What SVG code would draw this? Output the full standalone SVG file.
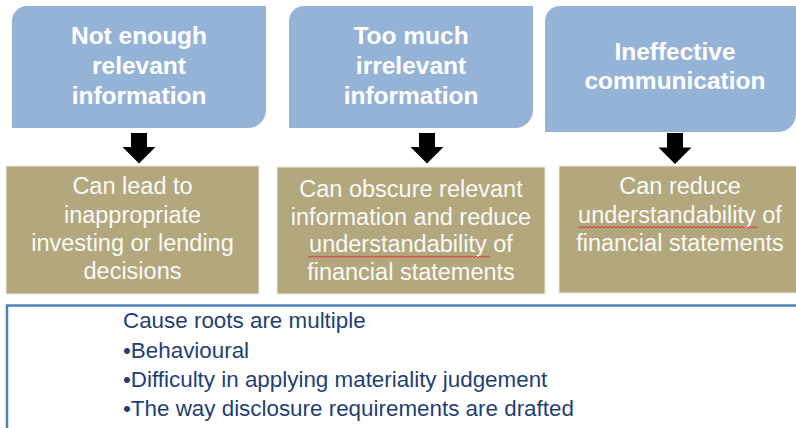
<svg xmlns="http://www.w3.org/2000/svg" width="796" height="428" viewBox="0 0 796 428">
<defs>
<style>
.hdr{fill:#95B3D7}
.kh{fill:#B3A77D;stroke:#ECE9DD;stroke-width:1}
.ht{font-family:"Liberation Sans",Arial,sans-serif;font-weight:bold;font-size:24.5px;fill:#FFFFFF;text-anchor:middle}
.kt{font-family:"Liberation Sans",Arial,sans-serif;font-size:23.5px;fill:#FAFAF6;text-anchor:middle}
.bt{font-family:"Liberation Sans",Arial,sans-serif;font-size:22.4px;fill:#1F3F74}
.arr{fill:#000000}
.sq{fill:none;stroke:#E03030;stroke-width:1}
</style>
</defs>
<rect width="796" height="428" fill="#FFFFFF"/>
<g id="cause1">
<path class="hdr" d="M27 6 H266 V110 A18 18 0 0 1 248 128 H12 V21 A15 15 0 0 1 27 6 Z"/>
<text class="ht" x="139" y="44">Not enough</text>
<text class="ht" x="139" y="74">relevant</text>
<text class="ht" x="139" y="104">information</text>
</g>
<g id="cause2">
<path class="hdr" d="M304 6 H533 V110 A18 18 0 0 1 515 128 H289 V21 A15 15 0 0 1 304 6 Z"/>
<text class="ht" x="411" y="44">Too much</text>
<text class="ht" x="411" y="74">irrelevant</text>
<text class="ht" x="411" y="104">information</text>
</g>
<g id="cause3">
<path class="hdr" d="M560 6 H796 V114 A18 18 0 0 1 778 132 H545 V21 A15 15 0 0 1 560 6 Z"/>
<text class="ht" x="675" y="60">Ineffective</text>
<text class="ht" x="675" y="89">communication</text>
</g>
<g id="connectors">
<path class="arr" d="M131 133 H147 V147 H155.5 L139 163.5 L122.5 147 H131 Z"/>
<path class="arr" d="M419 133 H435 V147 H443.5 L427 163.5 L410.5 147 H419 Z"/>
<path class="arr" d="M667 133 H683 V147.5 H691.5 L675 164 L658.5 147.5 H667 Z"/>
</g>
<g id="effect1">
<rect class="kh" x="6" y="166" width="253" height="128"/>
<text class="kt" x="132.5" y="194">Can lead to</text>
<text class="kt" x="132.5" y="222.5">inappropriate</text>
<text class="kt" x="132.5" y="250.7">investing or lending</text>
<text class="kt" x="132.5" y="279">decisions</text>
</g>
<g id="effect2">
<rect class="kh" x="277" y="167" width="268" height="127"/>
<text class="kt" x="411" y="197">Can obscure relevant</text>
<text class="kt" x="411" y="224.5">information and reduce</text>
<text class="kt" x="411" y="252">understandability of</text>
<text class="kt" x="411" y="279.5">financial statements</text>
<polyline class="sq" points="308,256 310,257.5 312,256 314,257.5 316,256 318,257.5 320,256 322,257.5 324,256 326,257.5 328,256 330,257.5 332,256 334,257.5 336,256 338,257.5 340,256 342,257.5 344,256 346,257.5 348,256 350,257.5 352,256 354,257.5 356,256 358,257.5 360,256 362,257.5 364,256 366,257.5 368,256 370,257.5 372,256 374,257.5 376,256 378,257.5 380,256 382,257.5 384,256 386,257.5 388,256 390,257.5 392,256 394,257.5 396,256 398,257.5 400,256 402,257.5 404,256 406,257.5 408,256 410,257.5 412,256 414,257.5 416,256 418,257.5 420,256 422,257.5 424,256 426,257.5 428,256 430,257.5 432,256 434,257.5 436,256 438,257.5 440,256 442,257.5 444,256 446,257.5 448,256 450,257.5 452,256 454,257.5 456,256 458,257.5 460,256 462,257.5 464,256 466,257.5 468,256 470,257.5 472,256 474,257.5 476,256 478,257.5 480,256 482,257.5 484,256 486,257.5 488,256 490,257.5"/>
</g>
<g id="effect3">
<rect class="kh" x="559" y="166" width="240" height="127"/>
<text class="kt" x="680" y="194">Can reduce</text>
<text class="kt" x="680" y="222.7">understandability of</text>
<text class="kt" x="680" y="250.7">financial statements</text>
<polyline class="sq" points="578,226.5 580,228 582,226.5 584,228 586,226.5 588,228 590,226.5 592,228 594,226.5 596,228 598,226.5 600,228 602,226.5 604,228 606,226.5 608,228 610,226.5 612,228 614,226.5 616,228 618,226.5 620,228 622,226.5 624,228 626,226.5 628,228 630,226.5 632,228 634,226.5 636,228 638,226.5 640,228 642,226.5 644,228 646,226.5 648,228 650,226.5 652,228 654,226.5 656,228 658,226.5 660,228 662,226.5 664,228 666,226.5 668,228 670,226.5 672,228 674,226.5 676,228 678,226.5 680,228 682,226.5 684,228 686,226.5 688,228 690,226.5 692,228 694,226.5 696,228 698,226.5 700,228 702,226.5 704,228 706,226.5 708,228 710,226.5 712,228 714,226.5 716,228 718,226.5 720,228 722,226.5 724,228 726,226.5 728,228 730,226.5 732,228 734,226.5 736,228 738,226.5 740,228 742,226.5 744,228 746,226.5 748,228 750,226.5 752,228 754,226.5 756,228 758,226.5"/>
</g>
<g id="roots">
<rect x="7" y="305.5" width="800" height="140" fill="#FFFFFF" stroke="#4F81BD" stroke-width="2.5"/>
<text class="bt" x="123" y="328.3">Cause roots are multiple</text>
<text class="bt" x="123" y="357.6">•Behavioural</text>
<text class="bt" x="123" y="386.8">•Difficulty in applying materiality judgement</text>
<text class="bt" x="123" y="416">•The way disclosure requirements are drafted</text>
</g>
</svg>
